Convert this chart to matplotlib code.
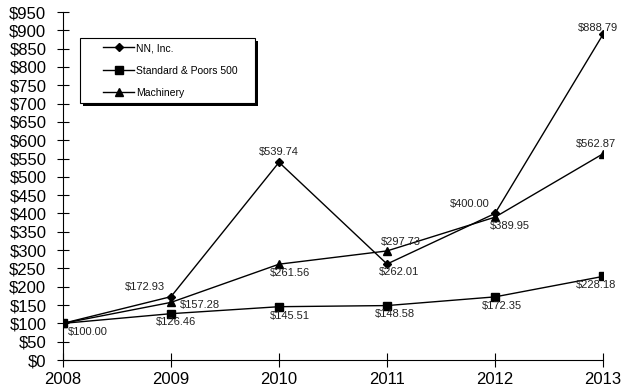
import matplotlib.pyplot as plt
from matplotlib.patches import Rectangle

plt.rcParams['font.family'] = ['Liberation Sans', 'DejaVu Sans']

years = [2008, 2009, 2010, 2011, 2012, 2013]
nn = [100.00, 172.93, 539.74, 262.01, 400.00, 888.79]
sp500 = [100.00, 126.46, 145.51, 148.58, 172.35, 228.18]
machinery = [100.00, 157.28, 261.56, 297.73, 389.95, 562.87]

# label offsets in pixels (dx, dy) for each point, None = no label
nnOffsets = [None, (-26, 10), (0, 10), (12, -8), (-25, 9), (-5, 6)]
spOffsets = [(25, -9), (5, -8), (11, -9), (8, -8), (7, -9), (-7, -9)]
machOffsets = [None, (29, -3), (11, -9), (14, 9), (15, -9), (-7, 10)]

W, H = 624, 389
fig = plt.figure(figsize=(W/100, H/100), dpi=100)
ax = fig.add_axes([63/W, 1 - 360/H, 540/W, 348/H])

ax.plot(years, nn, 'k-', marker='D', markersize=4.5, linewidth=1.0, label='NN, Inc.')
ax.plot(years, sp500, 'k-', marker='s', markersize=6, linewidth=1.0, label='Standard & Poors 500')
ax.plot(years, machinery, 'k-', marker='^', markersize=6, linewidth=1.0, label='Machinery')

def Label(values, offsets):
	for x, y, off in zip(years, values, offsets):
		if off is None:
			continue
		ax.annotate("${:.2f}".format(y), (x, y), xytext=off, textcoords='offset pixels',
			ha='center', va='center', fontsize=8, color='#222222')

Label(nn, nnOffsets)
Label(sp500, spOffsets)
Label(machinery, machOffsets)

ax.set_xlim(2008, 2013)
ax.set_ylim(0, 950)
ax.set_xticks(years)
ax.set_yticks(range(0, 951, 50))
ax.set_yticklabels(["${}".format(v) for v in range(0, 951, 50)])
ax.tick_params(axis='y', direction='inout', length=8, width=0.8, pad=8, labelsize=12)
ax.tick_params(axis='x', direction='inout', length=10, width=0.8, pad=4, labelsize=12)

for side in ['top', 'right']:
	ax.spines[side].set_visible(False)
for side in ['left', 'bottom']:
	ax.spines[side].set_linewidth(0.8)
	ax.spines[side].set_clip_on(False)

# legend frame with a hard black shadow, drawn by hand
shadow = Rectangle((83/W, 1 - 106/H), 175/W, 65/H, transform=fig.transFigure,
	facecolor='black', edgecolor='none', zorder=6, clip_on=False)
frame = Rectangle((80/W, 1 - 103/H), 175/W, 65/H, transform=fig.transFigure,
	facecolor='white', edgecolor='black', linewidth=0.8, zorder=7, clip_on=False)
ax.add_patch(shadow)
ax.add_patch(frame)

leg = ax.legend(loc='upper left', bbox_to_anchor=(40/540, 317/348), borderaxespad=0,
	fontsize=7.5, frameon=False, handlelength=3.0, handletextpad=0.2,
	labelspacing=1.2, borderpad=0)
leg.set_zorder(8)

fig.savefig('out.png', dpi=100)
